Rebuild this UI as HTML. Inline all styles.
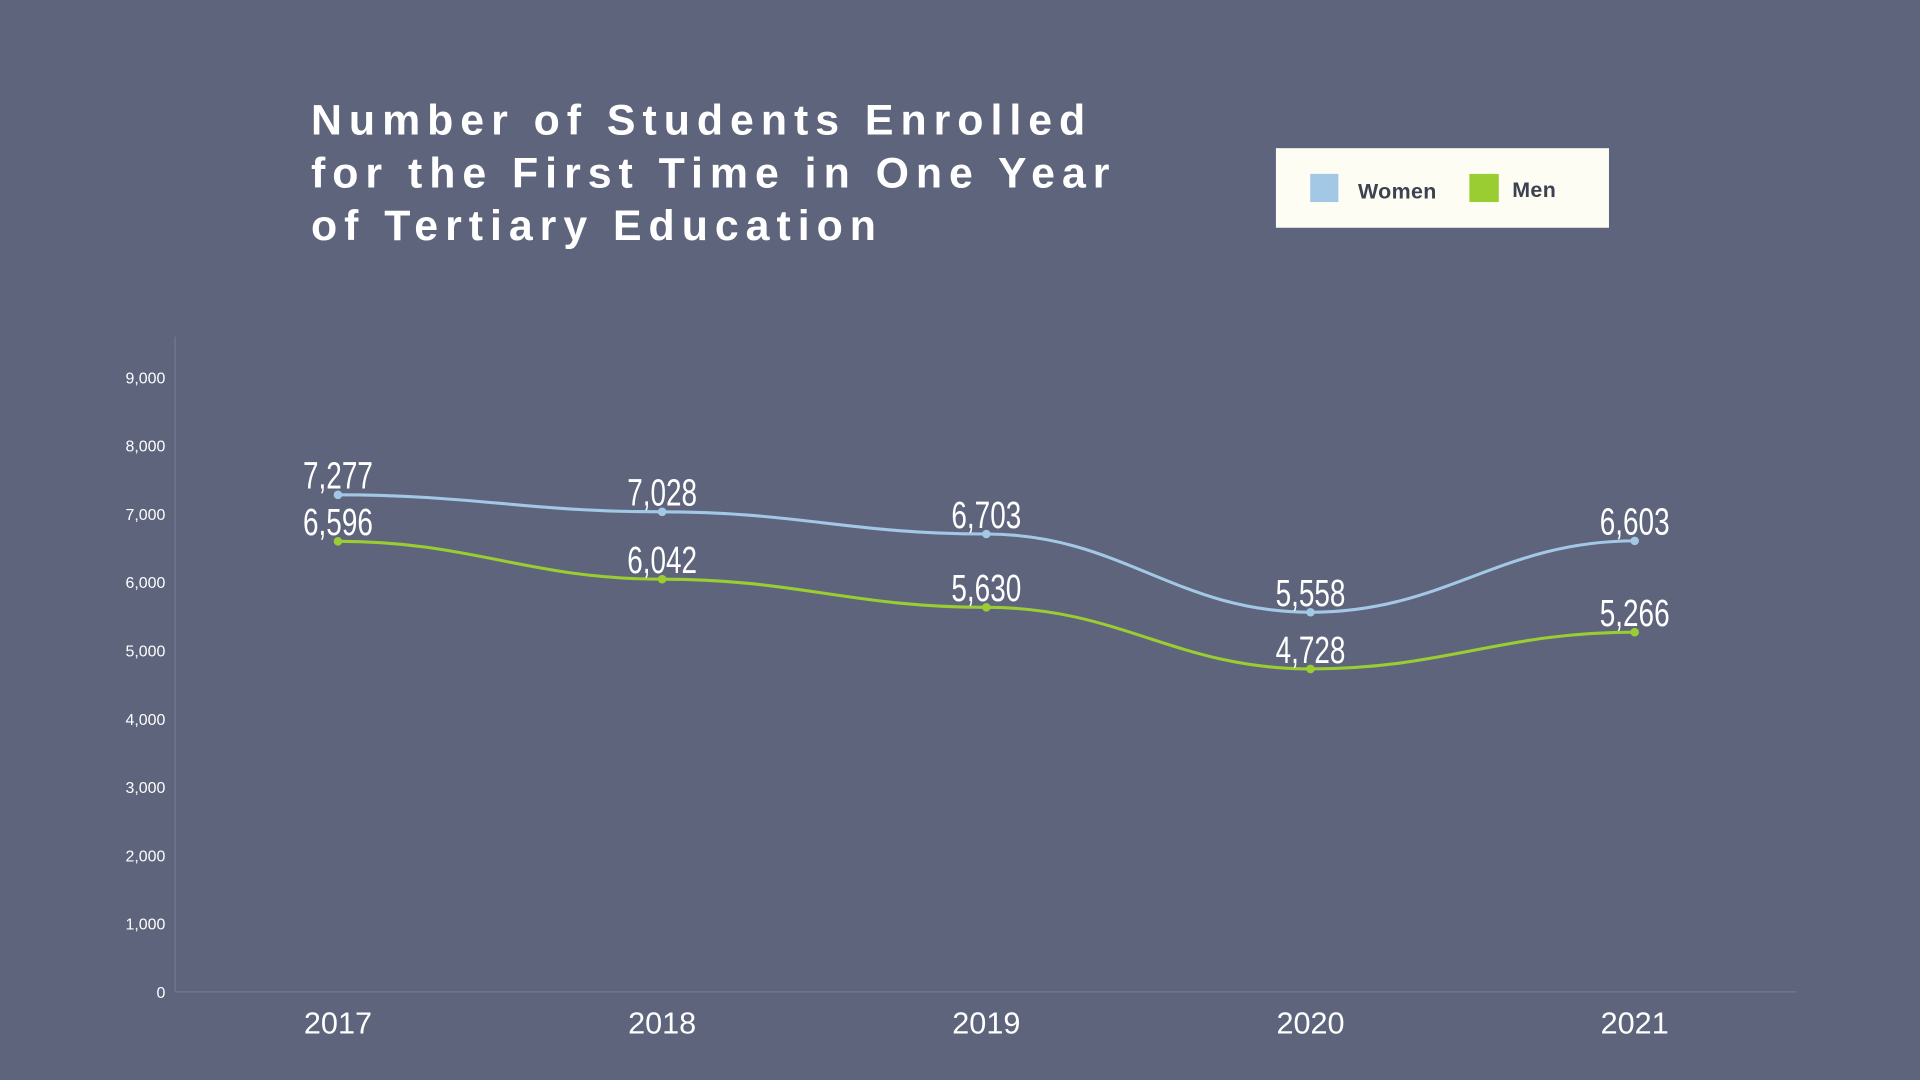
<!DOCTYPE html>
<html><head><meta charset="utf-8">
<style>
html,body{margin:0;padding:0;background:#5e647c;}
svg{display:block;}
</style></head>
<body>
<svg id="chart" width="1920" height="1080" viewBox="0 0 1568 882" xmlns="http://www.w3.org/2000/svg">
<rect x="0" y="0" width="1568" height="882" fill="#5e647c"/>
<g font-family="'Liberation Sans', sans-serif" font-weight="bold" font-size="35" fill="#ffffff" letter-spacing="5.7">
<text x="254" y="110">Number of Students Enrolled</text>
<text x="254" y="153">for the First Time in One Year</text>
<text x="254" y="196">of Tertiary Education</text>
</g>
<g>
<rect x="1042" y="121" width="272" height="65" fill="#fdfdf4"/>
<g>
<rect x="1070" y="142" width="23" height="23" fill="#a3c8e6"/>
<text x="1109" y="162" font-family="'Liberation Sans', sans-serif" font-weight="bold" font-size="17.5" fill="#3d4150" letter-spacing="0.3">Women</text>
</g>
<g>
<rect x="1200" y="142" width="24" height="23" fill="#9acd32"/>
<text x="1235" y="161" font-family="'Liberation Sans', sans-serif" font-weight="bold" font-size="17.5" fill="#3d4150" letter-spacing="0.3">Men</text>
</g>
</g>
<g id="axes"></g>
<g id="series"></g>
</svg>
<script>
const categories = ["2017","2018","2019","2020","2021"];
const women = [7277, 7028, 6703, 5558, 6603];
const men = [6596, 6042, 5630, 4728, 5266];
const yTicks = [0,1000,2000,3000,4000,5000,6000,7000,8000,9000];

const NS = "http://www.w3.org/2000/svg";
const x0 = 276, xStep = (1335-276)/4, yBase = 810, yPer = (810-308)/9000;
function xs(i){ return x0 + i*xStep; }
function ys(v){ return yBase - v*yPer; }
function mk(tag, attrs, parent){
  const e = document.createElementNS(NS, tag);
  for (const k in attrs) e.setAttribute(k, attrs[k]);
  parent.appendChild(e); return e;
}
const axes = document.getElementById('axes');
const yl = mk('line',{x1:143,y1:275,x2:143,y2:810,stroke:'#727890','stroke-width':1},axes);


const xl = mk('line',{x1:143,y1:810,x2:1467,y2:810,stroke:'#727890','stroke-width':1},axes);


yTicks.forEach(v=>{
  const t = mk('text',{x:135,y:ys(v)+5,'text-anchor':'end','font-family':"'Liberation Sans', sans-serif",'font-size':13,fill:'#ffffff'},axes);
  t.textContent = v.toLocaleString('en-US');
  
  
});
categories.forEach((c,i)=>{
  const t = mk('text',{x:xs(i),y:844,'text-anchor':'middle','font-family':"'Liberation Sans', sans-serif",'font-size':25,fill:'#ffffff'},axes);
  t.textContent = c;
  
  
});
const series = document.getElementById('series');
function drawSeries(vals, color, name){
  const g = mk('g',{},series);
  
  
  let d = `M${xs(0)},${ys(vals[0])}`;
  for (let i=1;i<vals.length;i++){
    const xa=xs(i-1), xb=xs(i), ya=ys(vals[i-1]), yb=ys(vals[i]);
    const dx=(xb-xa)/2.4;
    d += ` C${xa+dx},${ya} ${xb-dx},${yb} ${xb},${yb}`;
  }
  const p = mk('path',{d:d,fill:'none',stroke:color,'stroke-width':2.5},g);
  
  
  vals.forEach((v,i)=>{
    const c = mk('circle',{cx:xs(i),cy:ys(v),r:3.5,fill:color},g);
    
    
    const s = v.toLocaleString('en-US');
    const t = mk('text',{x:xs(i),y:ys(v)-5,'text-anchor':'middle','font-family':"'Liberation Sans Narrow','Liberation Sans', sans-serif",'font-size':31,fill:'#ffffff',textLength:s.length*11.4,lengthAdjust:'spacingAndGlyphs'},g);
    t.textContent = s;
    
    
  });
}
drawSeries(women,'#a3c8e6','women');
drawSeries(men,'#9acd32','men');
</script>
</body></html>
